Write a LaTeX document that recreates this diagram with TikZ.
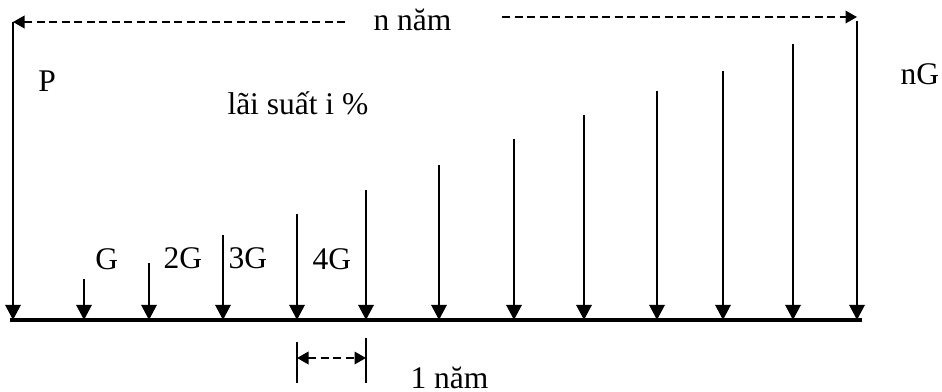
\documentclass[tikz,border=0pt]{standalone}
\usepackage{fontspec}
\setmainfont{Liberation Serif}
\usetikzlibrary{arrows.meta}

\begin{document}
\begin{tikzpicture}[
    x=0.4pt, y=-0.4pt,
    flow/.style={-{Triangle[width=6pt, length=6pt]}, line width=1.15pt},
    axis/.style={line width=1.3pt},
    tick/.style={line width=0.6pt},
    span/.style={dash pattern=on 3.2pt off 1.8pt, line width=0.75pt, -{Triangle[width=5pt, length=4.6pt]}},
    spanboth/.style={span, {Triangle[width=5pt, length=4.6pt]}-{Triangle[width=5pt, length=4.6pt]}},
    lbl/.style={font=\fontsize{12.6}{15}\selectfont, inner sep=0pt, anchor=base west}
]
    \useasboundingbox (0,0) rectangle (942,392);

    % cash flow arrows, one per year
    \foreach \xx/\yy [count=\k from 0] in {13/22, 84/279, 149/263, 223/235, 297/214, 366/190, 439/165, 514/139, 584/115, 657/91, 723/71, 793/44, 857/21} {
        \coordinate (top\k) at (\xx,\yy);
        \coordinate (foot\k) at (\xx,320);
        \draw[flow] (top\k) -- (foot\k);
    }

    \coordinate (axisL) at (10,320);
    \coordinate (axisR) at (862,320);
    \draw[axis] (axisL) -- (axisR);

    % labels
    \node[lbl] (period) at (373,31) {n năm};
    \node[lbl] (present) at (38,92) {P};
    \node[lbl] (rate) at (227,115) {lãi suất i \%};
    \node[lbl] (last) at (900,85) {nG};
    \node[lbl] (g1) at (95,270) {G};
    \node[lbl] (g2) at (163,269) {2G};
    \node[lbl] (g3) at (228,269) {3G};
    \node[lbl] (g4) at (312,270) {4G};
    \node[lbl] (year) at (410,389) {1 năm};

    % overall span
    \coordinate (gapL) at (345,22);
    \coordinate (gapR) at (502,17);
    \draw[span] (gapL) -- (top0);
    \draw[span] (gapR) -- (gapR -| top12);

    % one year marker
    \draw[tick] ([yshift=-8.8pt]foot4) -- ([yshift=-25.2pt]foot4);
    \draw[tick] ([yshift=-7.2pt]foot5) -- ([yshift=-25.2pt]foot5);
    \draw[spanboth] ([yshift=-15.2pt]foot4) -- ([yshift=-15.2pt]foot5);
\end{tikzpicture}
\end{document}
